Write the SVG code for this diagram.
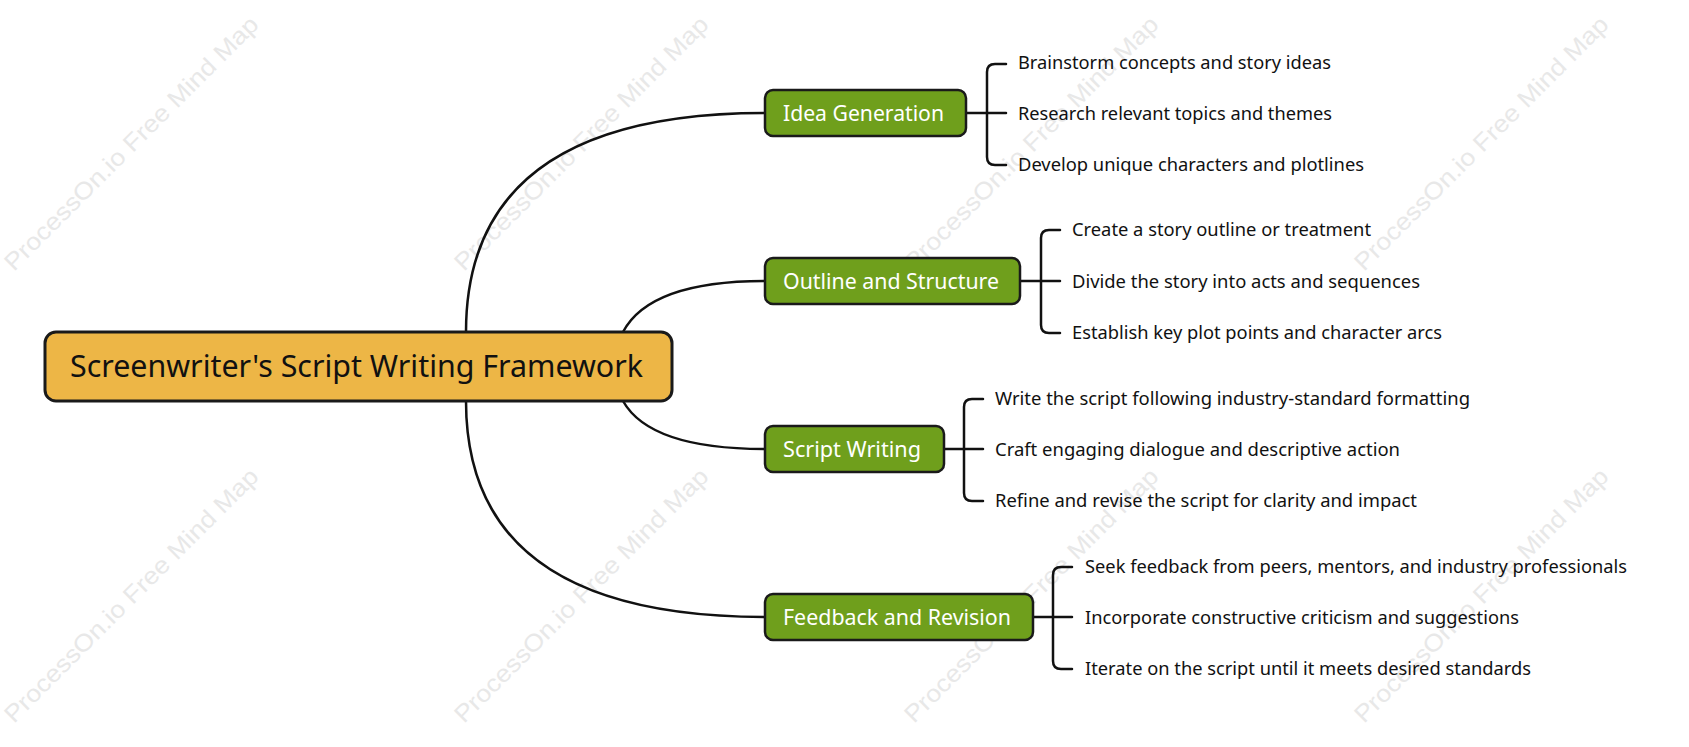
<svg xmlns="http://www.w3.org/2000/svg" width="1689" height="747" viewBox="0 0 1689 747">
<style>
.wm{font-family:"Liberation Sans",Arial,sans-serif;font-size:24px;fill:#e8e8e8}
.root{fill:#EDB646;stroke:#1a1a1a;stroke-width:3}
.br{fill:#6F9F1C;stroke:#1a1a1a;stroke-width:2.5}
.t{font-family:"Noto Sans","Open Sans",sans-serif}
.rt{font-size:30px;fill:#111}
.bt{font-size:21px;fill:#fff}
.ct{font-size:17.5px;fill:#111}
.ln{fill:none;stroke:#111;stroke-width:2.5;stroke-linecap:round;stroke-linejoin:round}
</style>
<rect width="1689" height="747" fill="#fff"/>
<g id="watermarks">
<text class="wm" transform="translate(14,272) rotate(-45)" textLength="348" lengthAdjust="spacingAndGlyphs">ProcessOn.io Free Mind Map</text>
<text class="wm" transform="translate(464,272) rotate(-45)" textLength="348" lengthAdjust="spacingAndGlyphs">ProcessOn.io Free Mind Map</text>
<text class="wm" transform="translate(914,272) rotate(-45)" textLength="348" lengthAdjust="spacingAndGlyphs">ProcessOn.io Free Mind Map</text>
<text class="wm" transform="translate(1364,272) rotate(-45)" textLength="348" lengthAdjust="spacingAndGlyphs">ProcessOn.io Free Mind Map</text>
<text class="wm" transform="translate(14,724) rotate(-45)" textLength="348" lengthAdjust="spacingAndGlyphs">ProcessOn.io Free Mind Map</text>
<text class="wm" transform="translate(464,724) rotate(-45)" textLength="348" lengthAdjust="spacingAndGlyphs">ProcessOn.io Free Mind Map</text>
<text class="wm" transform="translate(914,724) rotate(-45)" textLength="348" lengthAdjust="spacingAndGlyphs">ProcessOn.io Free Mind Map</text>
<text class="wm" transform="translate(1364,724) rotate(-45)" textLength="348" lengthAdjust="spacingAndGlyphs">ProcessOn.io Free Mind Map</text>
</g>
<g id="connectors">
<path class="ln" d="M466 332 Q466 113 765 113"/>
<path class="ln" d="M623 332 Q650 281 765 281"/>
<path class="ln" d="M623 401 Q650 449 765 449"/>
<path class="ln" d="M466 401 Q466 617 765 617"/>
<path class="ln" d="M966 113 H1006 M1006 64 H995 Q987 64 987 72 V157 Q987 165 995 165 H1006"/>
<path class="ln" d="M1020 281 H1060 M1060 230 H1049 Q1041 230 1041 238 V325 Q1041 333 1049 333 H1060"/>
<path class="ln" d="M944 449 H983 M983 399 H972 Q964 399 964 407 V493 Q964 501 972 501 H983"/>
<path class="ln" d="M1033 617 H1072 M1072 567 H1061 Q1053 567 1053 575 V661 Q1053 669 1061 669 H1072"/>
</g>
<g id="root">
<rect class="root" x="45" y="332" width="627" height="69" rx="11"/>
<text class="t rt" x="70" y="377" textLength="573" lengthAdjust="spacingAndGlyphs">Screenwriter's Script Writing Framework</text>
</g>
<g id="idea">
<rect class="br" x="765" y="90" width="201" height="46" rx="8"/>
<text class="t bt" x="783" y="120.5" textLength="161" lengthAdjust="spacingAndGlyphs">Idea Generation</text>
<text class="t ct" x="1018" y="69" textLength="313" lengthAdjust="spacingAndGlyphs">Brainstorm concepts and story ideas</text>
<text class="t ct" x="1018" y="119.5" textLength="314" lengthAdjust="spacingAndGlyphs">Research relevant topics and themes</text>
<text class="t ct" x="1018" y="171" textLength="346" lengthAdjust="spacingAndGlyphs">Develop unique characters and plotlines</text>
</g>
<g id="outline">
<rect class="br" x="765" y="258" width="255" height="46" rx="8"/>
<text class="t bt" x="783" y="288.5" textLength="216" lengthAdjust="spacingAndGlyphs">Outline and Structure</text>
<text class="t ct" x="1072" y="236" textLength="299" lengthAdjust="spacingAndGlyphs">Create a story outline or treatment</text>
<text class="t ct" x="1072" y="287.5" textLength="348" lengthAdjust="spacingAndGlyphs">Divide the story into acts and sequences</text>
<text class="t ct" x="1072" y="339" textLength="370" lengthAdjust="spacingAndGlyphs">Establish key plot points and character arcs</text>
</g>
<g id="script">
<rect class="br" x="765" y="426" width="179" height="46" rx="8"/>
<text class="t bt" x="783" y="456.5" textLength="138" lengthAdjust="spacingAndGlyphs">Script Writing</text>
<text class="t ct" x="995" y="405" textLength="475" lengthAdjust="spacingAndGlyphs">Write the script following industry-standard formatting</text>
<text class="t ct" x="995" y="455.5" textLength="405" lengthAdjust="spacingAndGlyphs">Craft engaging dialogue and descriptive action</text>
<text class="t ct" x="995" y="507" textLength="422" lengthAdjust="spacingAndGlyphs">Refine and revise the script for clarity and impact</text>
</g>
<g id="feedback">
<rect class="br" x="765" y="594" width="268" height="46" rx="8"/>
<text class="t bt" x="783" y="624.5" textLength="228" lengthAdjust="spacingAndGlyphs">Feedback and Revision</text>
<text class="t ct" x="1085" y="573" textLength="542" lengthAdjust="spacingAndGlyphs">Seek feedback from peers, mentors, and industry professionals</text>
<text class="t ct" x="1085" y="623.5" textLength="434" lengthAdjust="spacingAndGlyphs">Incorporate constructive criticism and suggestions</text>
<text class="t ct" x="1085" y="675" textLength="446" lengthAdjust="spacingAndGlyphs">Iterate on the script until it meets desired standards</text>
</g>
</svg>
